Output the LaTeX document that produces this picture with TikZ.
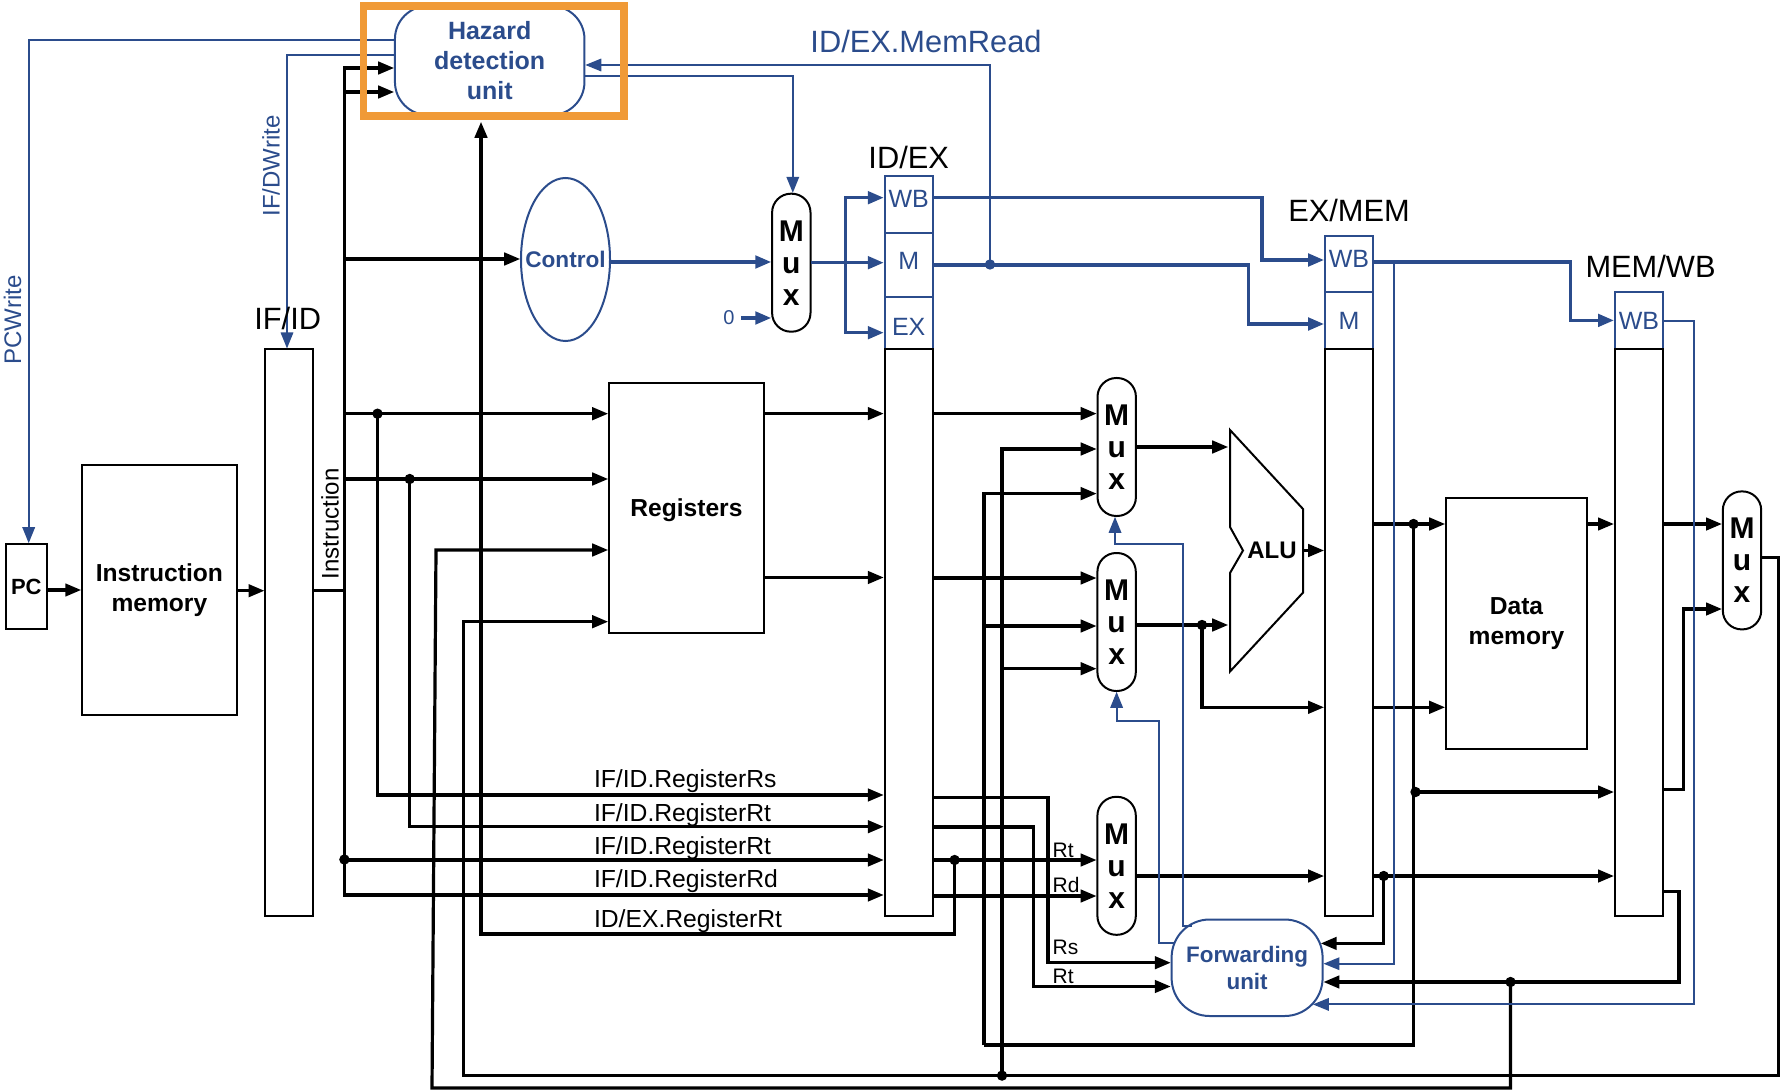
\documentclass[tikz,border=0pt]{standalone}
\usepackage{fontspec}
\setmainfont{Liberation Sans}
\usetikzlibrary{arrows.meta,shapes.geometric}
\definecolor{hblue}{HTML}{2B4C8C}
\definecolor{horange}{HTML}{F09A37}
\tikzset{
  box/.style={draw,line width=1pt,inner sep=0pt,outer sep=0pt,align=center},
  bbox/.style={box,draw=hblue,text=hblue},
  regbody/.style={box,minimum width=24.1pt,minimum height=283.35pt},
  sect/.style={bbox,minimum width=24.1pt,font=\fontsize{12.5}{15}\selectfont},
  muxbox/.style={box,rounded corners=9.4pt,minimum width=19.2pt,minimum height=69pt,font=\fontsize{15}{16}\selectfont\bfseries},
  bfb/.style={font=\fontsize{12.3}{15}\selectfont\bfseries},
  bk/.style={line width=1.6pt,black},
  bl/.style={line width=1pt,hblue},
  blt/.style={line width=1.8pt,hblue},
  ar/.style={-{Triangle[length=8pt,width=6.2pt]},shorten >=0.4pt},
  jdot/.style={circle,fill=black,inner sep=0pt,outer sep=0pt,minimum size=5.2pt},
  jdotb/.style={jdot,fill=hblue},
  lab/.style={inner sep=0pt,outer sep=0pt,font=\fontsize{15.4}{18}\selectfont},
  rlab/.style={inner sep=0pt,outer sep=0pt,anchor=base west,font=\fontsize{12.35}{15}\selectfont},
  slab/.style={inner sep=0pt,outer sep=0pt,anchor=base west,font=\fontsize{10.5}{12}\selectfont},
  vlab/.style={inner sep=0pt,outer sep=0pt,rotate=90,text=hblue,font=\fontsize{12}{14}\selectfont}
}
\begin{document}
\begin{tikzpicture}[x=0.5pt,y=-0.5pt]
\useasboundingbox (0,0) rectangle (1780,1090);
% blocks
\node[box,bfb,font=\fontsize{11}{13}\selectfont\bfseries,minimum width=20.7pt,minimum height=42.5pt] (pc) at (26.3,586.5) {PC};
\node[box,bfb,minimum width=77.35pt,minimum height=125pt] (im) at (159.4,589.7) {Instruction\\memory};
\node[box,minimum width=24pt,minimum height=283.2pt] (ifid) at (289.3,632.5) {};
\node[box,bfb,minimum width=77.4pt,minimum height=125.15pt,text depth=0pt] (regs) at (686.4,507.9) {Registers};
\node[box,bfb,minimum width=70.5pt,minimum height=125.6pt] (dmem) at (1516.5,623.1) {Data\\memory};
% pipeline registers
\node[sect,minimum height=28.25pt,text depth=5.6pt] (idexwb) at (908.7,204.65) {WB};
\node[sect,minimum height=32.3pt,text depth=4.2pt] (idexm) at (908.7,265.2) {M};
\node[sect,minimum height=25.9pt,text height=12.6pt] (idexex) at (908.7,323.4) {EX};
\node[regbody] (idex) at (908.7,632.65) {};
\node[sect,minimum height=27.8pt,text depth=5.6pt] (exmemwb) at (1349,264.2) {WB};
\node[sect,minimum height=28.65pt] (exmemm) at (1349,320.65) {M};
\node[regbody] (exmem) at (1349,632.65) {};
\node[sect,minimum height=28.4pt] (memwbwb) at (1638.9,320.9) {WB};
\node[regbody] (memwb) at (1638.9,632.65) {};
% control blocks
\node[bbox,rounded corners=16.5pt,font=\fontsize{12.5}{15}\selectfont\bfseries,minimum width=94.75pt,minimum height=54.5pt] (haz) at (489.7,60.5) {Hazard\\detection\\unit};
\node[bbox,ellipse,font=\fontsize{11.3}{13}\selectfont\bfseries,minimum width=44.5pt,minimum height=81.5pt] (ctrl) at (565.5,259.5) {\makebox[0pt]{Control}};
\node[bbox,rounded corners=19pt,font=\fontsize{11.2}{13.5}\selectfont\bfseries,minimum width=75.5pt,minimum height=48.25pt] (fwd) at (1247.1,967.75) {Forwarding\\unit};
% muxes
\node[muxbox] (mxo) at (791.3,262.7) {M\\u\\x};
\node[muxbox] (mxa) at (1116.7,447) {M\\u\\x};
\node[muxbox] (mxb) at (1116.6,622) {M\\u\\x};
\node[muxbox] (mxc) at (1116.6,865.8) {M\\u\\x};
\node[muxbox] (mxd) at (1742,560.4) {M\\u\\x};
% ALU
\draw[line width=1pt,line join=miter] (1230,430) -- (1303,509) -- (1303,592.6) -- (1230,671.5) -- (1230,573) -- (1243,550.5) -- (1230,527) -- cycle;
\node[inner sep=0pt,font=\fontsize{12}{14}\selectfont\bfseries] (alu) at (1272,550.5) {ALU};
\coordinate (aluA) at (1229,447);
\coordinate (aluB) at (1229,625);
\coordinate (aluO) at (1303,550.5);
% junctions
\node[jdot] (j1) at (377.5,413.7) {};
\node[jdot] (j2) at (409.7,479) {};
\node[jdot] (j3) at (344.4,859.5) {};
\node[jdot] (j4) at (954.6,860) {};
\node[jdot] (jb) at (1002,1075.6) {};
\node[jdot] (jb2) at (1202,625) {};
\node[jdot] (je1) at (1413.5,524) {};
\node[jdot] (je2) at (1415.5,792) {};
\node[jdot] (jr) at (1383.7,876) {};
\node[jdot] (jm) at (1510.5,982) {};
\node[jdotb] (jmr) at (990,264.5) {};
% helper points
\coordinate (tr) at (344.4,590.7);
\coordinate (hazS) at (481,121);
\coordinate (wbR) at (1779,557.5);
\coordinate (wbB) at (1779,1075.6);
\coordinate (wbL) at (463.3,1075.6);
\coordinate (m1) at (1510.5,1088);
\coordinate (m2) at (432,1088);
\coordinate (m3) at (436,550);
\coordinate (fb2) at (984,1045);
\coordinate (rsc) at (1048,962.7);
\coordinate (rtc) at (1033.6,986.5);
\coordinate (rb) at (954.6,934);
\coordinate (fw2R) at (1679,982);
\coordinate (br) at (845.6,262.7);
\coordinate (wbc) at (1261.7,260);
\coordinate (mc) at (1248.5,324);
\coordinate (wb2c) at (1570.6,320.4);
\coordinate (wbx) at (1393.8,261.8);
\coordinate (wbz) at (1694,1004.4);
\coordinate (c2) at (1159,721.3);
\coordinate (c4) at (1183.4,544.2);
\coordinate (fc3) at (1192,926);
\coordinate (fwdA) at ([xshift=-1.35pt]fwd.east);
\coordinate (fwdB) at ([xshift=-5.3pt]fwd.east);
\coordinate (fwdC) at ([xshift=1.7pt]fwd.west);
% black connectors, left part
\draw[bk,ar] (pc.east |- 0,590) -- (im.west |- 0,590);
\draw[bk,ar] (im.east |- 0,590.7) -- (ifid.west |- 0,590.7);
\draw[bk] (ifid.east |- tr) -- (tr);
\draw[bk,ar] (tr) |- (haz.west |- 0,68);
\draw[bk,ar] (tr) |- (haz.west |- 0,92);
\draw[bk,ar] (tr) |- (ctrl.west |- 0,259);
\draw[bk,ar] (tr) |- (regs.west |- 0,413.7);
\draw[bk,ar] (tr) |- (regs.west |- 0,479);
\draw[bk,ar] (tr) |- (idex.west |- 0,860);
\draw[bk,ar] (tr) |- (idex.west |- 0,895);
\draw[bk,ar] (j1.center) |- (idex.west |- 0,795);
\draw[bk,ar] (j2.center) |- (idex.west |- 0,826.7);
% registers to ID/EX and muxes
\draw[bk,ar] (regs.east |- 0,413.6) -- (idex.west |- 0,413.6);
\draw[bk,ar] (regs.east |- 0,577.5) -- (idex.west |- 0,577.5);
\draw[bk,ar] (idex.east |- 0,413.6) -- (mxa.west |- 0,413.6);
\draw[bk,ar] (idex.east |- 0,578) -- (mxb.west |- 0,578);
\draw[bk,ar] (idex.east |- 0,860) -- (mxc.west |- 0,860);
\draw[bk,ar] (idex.east |- 0,896) -- (mxc.west |- 0,896);
\draw[bk,ar] (idex.east |- 0,797.8) -| (rsc) -- (fwd.west |- rsc);
\draw[bk,ar] (idex.east |- 0,827) -| (rtc) -- (fwd.west |- rtc);
\draw[bk,ar] (j4.center) -- (rb) -| (hazS);
% ALU
\draw[bk,ar] (mxa.east |- aluA) -- (aluA);
\draw[bk,ar] (mxb.east |- aluB) -- (aluB);
\draw[bk,ar] (aluO) -- (exmem.west |- aluO);
\draw[bk,ar] (jb2.center) |- (exmem.west |- 0,707.3);
\draw[bk,ar] (mxc.east |- 0,876) -- (exmem.west |- 0,876);
% EX/MEM onward
\draw[bk,ar] (exmem.east |- 0,524) -- (dmem.west |- 0,524);
\draw[bk,ar] (exmem.east |- 0,707.3) -- (dmem.west |- 0,707.3);
\draw[bk,ar] (dmem.east |- 0,524) -- (memwb.west |- 0,524);
\draw[bk,ar] (exmem.east |- 0,876) -- (memwb.west |- 0,876);
\draw[bk,ar] (je2.center) -- (memwb.west |- je2);
\draw[bk,ar] (memwb.east |- 0,524) -- (mxd.west |- 0,524);
\draw[bk,ar] (memwb.east |- 0,789.7) -| (1683.4,609) -- (mxd.west |- 0,609);
% forwarding feedback
\draw[bk] (je1.center) |- (fb2);
\draw[bk,ar] (fb2) |- (mxa.west |- 0,493.6);
\draw[bk,ar] (fb2) |- (mxb.west |- 0,626);
\draw[bk,ar] (jb.center) |- (mxa.west |- 0,449);
\draw[bk,ar] (jb.center) |- (mxb.west |- 0,668.7);
\draw[bk,ar] (jr.center) |- (fwdA |- 0,943.4);
\draw[bk,ar] (memwb.east |- 0,891.8) -| (fw2R) -- (fwd.east |- fw2R);
\draw[bk,ar] (mxd.east |- wbR) -- (wbR) -- (wbB) -- (wbL) |- (regs.west |- 0,621.7);
\draw[bk,ar] (jm.center) -- (m1) -- (m2) -- (m3) -- (regs.west |- m3);
% blue connectors
\draw[bl,ar] (haz.west |- 0,40) -| (pc.north -| 28.7,0);
\draw[bl,ar] (haz.west |- 0,55) -| (ifid.north -| 287,0);
\draw[bl,ar] (jmr.center) |- (haz.east |- 0,65);
\draw[bl,ar] (haz.east |- 0,75.7) -| (mxo.north -| 792.8,0);
\draw[blt,ar] (ctrl.east |- 0,262) -- (mxo.west |- 0,262);
\node[inner xsep=3.2pt,inner ysep=0pt,outer sep=0pt,text=hblue,font=\fontsize{10}{12}\selectfont] (zero) at (729,318) {0};
\draw[blt,ar] (zero.east) -- (mxo.west |- zero.east);
\draw[blt,ar] (mxo.east |- br) -- (idexm.west |- br);
\draw[blt,ar] (br) |- (idexwb.west |- 0,197.7);
\draw[blt,ar] (br) |- (idexex.west |- 0,332.7);
\draw[blt,ar] (idexwb.east |- 0,197.5) -| (wbc) -- (exmemwb.west |- wbc);
\draw[blt,ar] (idexm.east |- 0,265) -| (mc) -- (exmemm.west |- mc);
\draw[blt,ar] (exmemwb.east |- 0,261.8) -| (wb2c) -- (memwbwb.west |- wb2c);
\draw[bl,ar] (wbx) |- (fwd.east |- 0,963.7);
\draw[bl,ar] (memwbwb.east |- 0,320.7) -| (wbz) -- (fwdB |- wbz);
\draw[bl,ar] (fwdC |- 0,943.4) -| (c2) -| (mxb.south);
\draw[bl,ar] (fc3) -| (c4) -| (mxa.south -| 1115,0);
% labels
\node[lab] (lifid) at (287.7,318) {IF/ID};
\node[lab] (lidex) at (908.7,157) {ID/EX};
\node[lab] (lexmem) at (1349,210) {EX/MEM};
\node[lab] (lmemwb) at (1650.5,266) {MEM/WB};
\node[lab,text=hblue] (lmr) at (926,41) {ID/EX.MemRead};
\node[vlab] (lpc) at (12.6,320) {PCWrite};
\node[vlab] (lifd) at (271,166) {IF/DWrite};
\node[vlab,text=black] (lins) at (330,524) {Instruction};
\node[rlab] (l1) at (594,787.7) {IF/ID.RegisterRs};
\node[rlab] (l2) at (594,821) {IF/ID.RegisterRt};
\node[rlab] (l3) at (594,854.3) {IF/ID.RegisterRt};
\node[rlab] (l4) at (594,887.7) {IF/ID.RegisterRd};
\node[rlab] (l5) at (594,927.3) {ID/EX.RegisterRt};
\node[slab] (s1) at (1052.6,857.4) {Rt};
\node[slab] (s2) at (1052.6,892.5) {Rd};
\node[slab] (s3) at (1052.6,954.6) {Rs};
\node[slab] (s4) at (1052.6,983.7) {Rt};
% highlight frame
\node[draw=horange,line width=3.75pt,inner sep=0pt,outer sep=0pt,minimum width=130.25pt,minimum height=55pt] (hbox) at (493.75,61) {};
\end{tikzpicture}
\end{document}
